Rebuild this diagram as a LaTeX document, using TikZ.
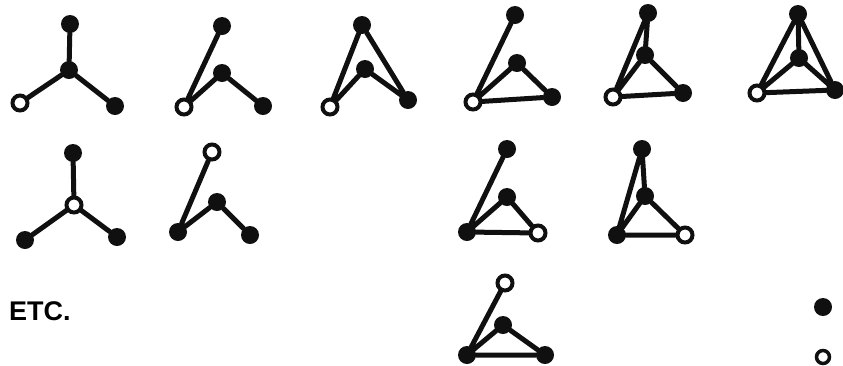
\documentclass[tikz,border=0pt]{standalone}
\usepackage{fontspec}
\setsansfont{Liberation Sans}
\usetikzlibrary{positioning}
\definecolor{ink}{HTML}{101010}
\tikzset{
  dot/.style={circle, fill=ink, inner sep=0pt, minimum size=18pt},
  hole/.style={circle, draw=ink, line width=4pt, fill=white, inner sep=0pt, minimum size=15pt},
  bond/.style={draw=ink, line width=5pt, line cap=round}
}

\begin{document}
\begin{tikzpicture}[x=1pt, y=-1pt]
\useasboundingbox (0,0) rectangle (843,365);

% row one
\node[dot] (at) at (70,24) {};
\node[dot] (ac) at (69,70) {};
\node[hole] (al) at (20,103) {};
\node[dot] (ar) at (115,106) {};
\draw[bond] (ac) -- (at) (ac) -- (al) (ac) -- (ar);

\node[dot] (bt) at (222,26) {};
\node[dot] (bm) at (222,73) {};
\node[hole] (bl) at (184,107) {};
\node[dot] (br) at (263,106) {};
\draw[bond] (bl) -- (bt) (bl) -- (bm) -- (br);

\node[dot] (ct) at (362,25) {};
\node[dot] (cm) at (365,69) {};
\node[hole] (cl) at (330,107) {};
\node[dot] (cr) at (408,100) {};
\draw[bond] (cl) -- (ct) -- (cr) -- (cm) -- (cl);

\node[dot] (dt) at (515,15) {};
\node[dot] (dm) at (517,63) {};
\node[hole] (dl) at (473,102) {};
\node[dot] (dr) at (552,97) {};
\draw[bond] (dl) -- (dt) (dl) -- (dm) -- (dr) -- (dl);

\node[dot] (et) at (648,13) {};
\node[dot] (em) at (645,55) {};
\node[hole] (el) at (613,97) {};
\node[dot] (er) at (683,93) {};
\draw[bond] (el) -- (et) -- (em) -- (el) -- (er) -- (em);

\node[dot] (ft) at (798,14) {};
\node[dot] (fm) at (799,58) {};
\node[hole] (fl) at (757,93) {};
\node[dot] (fr) at (835,90) {};
\draw[bond] (fl) -- (ft) -- (fr) -- (fl) -- (fm) -- (fr) (ft) -- (fm);

% row two
\node[dot] (gt) at (73,153) {};
\node[hole] (gc) at (74,205) {};
\node[dot] (gl) at (25,240) {};
\node[dot] (gr) at (117,237) {};
\draw[bond] (gc) -- (gt) (gc) -- (gl) (gc) -- (gr);

\node[hole] (ht) at (212,152) {};
\node[dot] (hm) at (217,202) {};
\node[dot] (hl) at (178,232) {};
\node[dot] (hr) at (250,235) {};
\draw[bond] (hl) -- (ht) (hl) -- (hm) -- (hr);

\node[dot] (it) at (507,149) {};
\node[dot] (im) at (507,197) {};
\node[dot] (il) at (467,232) {};
\node[hole] (ir) at (538,233) {};
\draw[bond] (il) -- (it) (il) -- (im) -- (ir) -- (il);

\node[dot] (jt) at (642,149) {};
\node[dot] (jm) at (645,196) {};
\node[dot] (jl) at (617,235) {};
\node[hole] (jr) at (685,235) {};
\draw[bond] (jl) -- (jt) -- (jm) -- (jl) -- (jr) -- (jm);

% row three
\node[hole] (kt) at (505,283) {};
\node[dot] (km) at (503,325) {};
\node[dot] (kl) at (467,355) {};
\node[dot] (kr) at (545,355) {};
\draw[bond] (kl) -- (kt) (kl) -- (km) -- (kr) -- (kl);

\node[anchor=west, inner sep=0pt, font=\sffamily\bfseries\fontsize{27}{27}\selectfont] (etc) at (9,311) {ETC.};

\node[dot] (full) at (823,307) {};
\node[hole, minimum size=13pt, line width=3.5pt] (empty) at (823,357) {};
\end{tikzpicture}
\end{document}
